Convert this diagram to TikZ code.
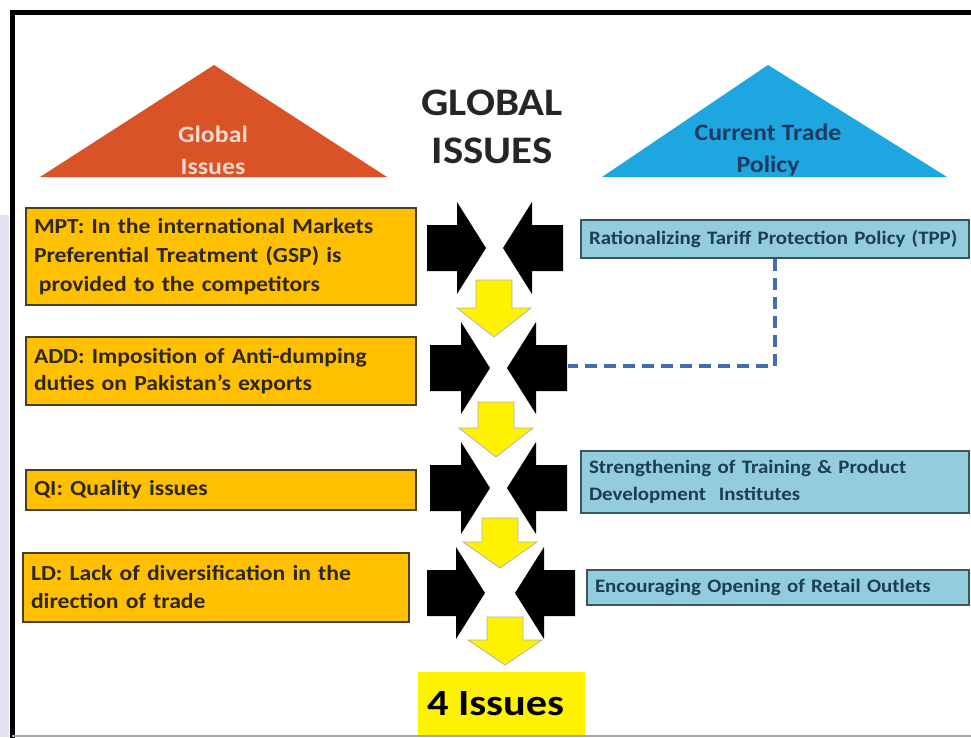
\documentclass[tikz,border=0pt]{standalone}
\usepackage{fontspec}
\setmainfont{Carlito}[FakeStretch=1.1]
\definecolor{trired}{HTML}{D95326}
\definecolor{trirtext}{HTML}{F7D9CD}
\definecolor{triblue}{HTML}{1DA6E0}
\definecolor{tribtext}{HTML}{1F3A60}
\definecolor{ofill}{HTML}{FFC000}
\definecolor{obord}{HTML}{4A3E1C}
\definecolor{otext}{HTML}{2E2812}
\definecolor{bfill}{HTML}{93CDDD}
\definecolor{bbord}{HTML}{3A5560}
\definecolor{btext}{HTML}{1C3E4E}
\definecolor{dashc}{HTML}{3E6DB0}
\definecolor{lav}{HTML}{E4E2EE}
\newcommand{\BlkPair}[5]{%
  \fill[black] (#2,#1-23) -- (#3-29,#1-23) -- (#3-29,#1-46) -- (#3,#1) -- (#3-29,#1+46) -- (#3-29,#1+23) -- (#2,#1+23) -- cycle;
  \fill[black] (#5,#1-23) -- (#4+29,#1-23) -- (#4+29,#1-46) -- (#4,#1) -- (#4+29,#1+46) -- (#4+29,#1+23) -- (#5,#1+23) -- cycle;
}
\newcommand{\YelDown}[4]{%
  \draw[white, line width=3pt] (#1-18,#2) -- (#1+18,#2) -- (#1+18,#3) -- (#1+37,#3) -- (#1,#4) -- (#1-37,#3) -- (#1-18,#3) -- cycle;
  \filldraw[fill=yellow, draw=gray!60, line width=0.8pt] (#1-18,#2) -- (#1+18,#2) -- (#1+18,#3) -- (#1+37,#3) -- (#1,#4) -- (#1-37,#3) -- (#1-18,#3) -- cycle;
}
\begin{document}
\begin{tikzpicture}[x=1pt,y=-1pt,
  obox/.style={draw=obord, line width=1.6pt, fill=ofill, text=otext, align=left, inner xsep=8pt, inner ysep=0pt, font=\bfseries\fontsize{21.5}{29}\selectfont},
  bbox/.style={draw=bbord, line width=1.6pt, fill=bfill, text=btext, align=left, inner xsep=8pt, inner ysep=0pt, font=\bfseries\fontsize{19}{27}\selectfont},
  tritext/.style={align=center, font=\bfseries\fontsize{23.5}{32}\selectfont},
]
\useasboundingbox (0,0) rectangle (971,737);
\fill[white] (0,0) rectangle (971,737);
\fill[lav] (0,215) rectangle (9,737);
% frame
\draw[line width=5pt] (975,12.5) -- (12.5,12.5) -- (12.5,740);
\draw[gray!70, line width=2pt] (12,735.5) -- (975,735.5);
% triangles
\fill[trired] (40,177) -- (214,65) -- (387,177) -- cycle;
\node[tritext, text=trirtext] (tl) at (213,150) {Global\\Issues};
\fill[triblue] (602,177) -- (768,65) -- (947,177) -- cycle;
\node[tritext, text=tribtext] (tr) at (768,150) {Current Trade\\Policy};
% title
\node[align=center, font=\bfseries\fontsize{39}{48}\selectfont, text=black!85] (title) at (492,127) {GLOBAL\\ISSUES};
% left boxes
\node[obox, text width=374pt, minimum height=97pt] (g1) at (221,256.5) {MPT: In the international Markets\\Preferential Treatment (GSP) is\\\hspace*{5pt}provided to the competitors};
\node[obox, text width=374pt, minimum height=68pt, font=\bfseries\fontsize{21.5}{27}\selectfont] (g2) at (221,371) {ADD: Imposition of Anti-dumping\\duties on Pakistan’s exports};
\node[obox, text width=374pt, minimum height=40pt] (g3) at (221,490) {QI: Quality issues};
\node[obox, text width=370pt, minimum height=69pt, font=\bfseries\fontsize{21.5}{28}\selectfont] (g4) at (216,587.5) {LD: Lack of diversification in the\\direction of trade};
% right boxes
\node[bbox, text width=372pt, minimum height=38pt] (tpp) at (775,239) {Rationalizing Tariff Protection Policy (TPP)};
\node[bbox, text width=372pt, minimum height=62pt] (stp) at (775,482) {Strengthening of Training \& Product\\Development\ \ Institutes};
\node[bbox, text width=366pt, minimum height=35pt] (enc) at (778,587.5) {Encouraging Opening of Retail Outlets};
% black arrow pairs
\BlkPair{248}{427}{486}{503}{563}
\BlkPair{368}{430}{490}{507}{567}
\BlkPair{488}{430}{490}{507}{567}
\BlkPair{593}{427}{485}{515}{575}
\coordinate (ra2) at (568,366);
% yellow arrows
\YelDown{494}{280}{308}{337}
\YelDown{496}{402}{428}{457}
\YelDown{500}{518}{542}{568}
\YelDown{505}{617}{640}{665}
% dashed connector
\draw[dashc, line width=3.5pt, dash pattern=on 12pt off 7pt] (tpp.south) |- (ra2);
% result
\fill[yellow] (418,672) rectangle (585,734.5);
\node[inner sep=0pt, font=\bfseries\fontsize{37}{40}\selectfont, xscale=1.04] (res) at (495.5,704) {4 Issues};
\end{tikzpicture}
\end{document}
